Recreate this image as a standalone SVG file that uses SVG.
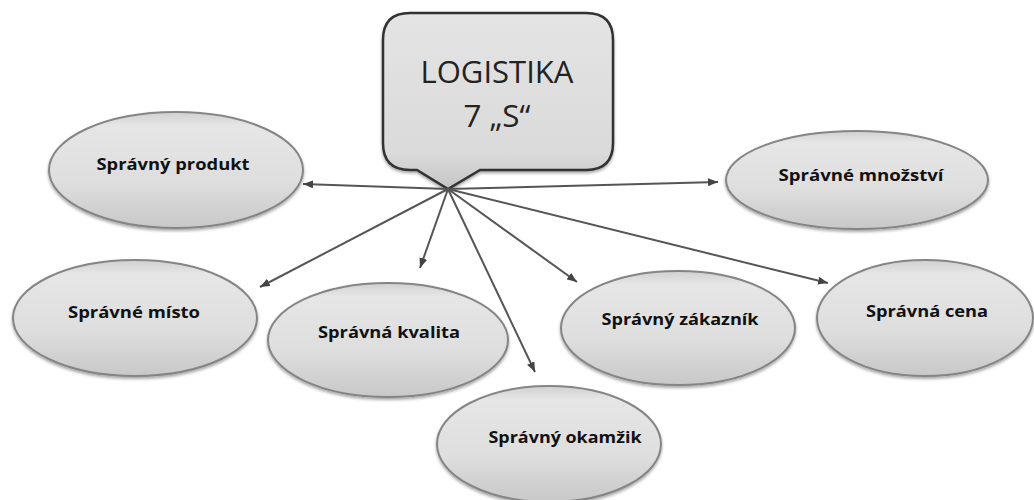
<svg xmlns="http://www.w3.org/2000/svg" width="1034" height="500" viewBox="0 0 1034 500">
<defs>
<linearGradient id="gEl" x1="0" y1="0" x2="0" y2="1">
<stop offset="0" stop-color="#d0d0d0"/>
<stop offset="0.12" stop-color="#e6e6e6"/>
<stop offset="0.6" stop-color="#dedede"/>
<stop offset="1" stop-color="#c8c8c8"/>
</linearGradient>
<linearGradient id="gBox" x1="0" y1="0" x2="0" y2="1">
<stop offset="0" stop-color="#e4e4e4"/>
<stop offset="0.8" stop-color="#dadada"/>
<stop offset="1" stop-color="#c4c4c4"/>
</linearGradient>
<filter id="sh" x="-10%" y="-10%" width="120%" height="125%">
<feDropShadow dx="0" dy="2" stdDeviation="1.5" flood-color="#000" flood-opacity="0.35"/>
</filter>
<marker id="ah" viewBox="0 0 10 8" refX="10" refY="4" markerWidth="10" markerHeight="8" markerUnits="userSpaceOnUse" orient="auto">
<path d="M0,0 L10,4 L0,8 Z" fill="#444"/>
</marker>
</defs>
<style>
.el{fill:url(#gEl);stroke:#858585;stroke-width:2;filter:url(#sh)}
.lbl{font-family:"Open Sans","Liberation Sans",sans-serif;font-weight:bold;font-size:16px;fill:#111;text-anchor:middle}
.big{font-family:"Open Sans","Liberation Sans",sans-serif;font-size:31px;fill:#222;text-anchor:middle}
.con{stroke:#555;stroke-width:2;fill:none;marker-end:url(#ah)}
</style>
<rect width="1034" height="500" fill="#ffffff"/>
<g id="logistika">
<path d="M410,13 H586 Q613,13 613,40 V143 Q613,170 586,170 H480 L448,189 L417,170 H410 Q383,170 383,143 V40 Q383,13 410,13 Z" fill="url(#gBox)" stroke="#333" stroke-width="2.5" filter="url(#sh)"/>
<text class="big" x="497" y="83" textLength="153" lengthAdjust="spacingAndGlyphs">LOGISTIKA</text>
<text class="big" x="497" y="127" textLength="67" lengthAdjust="spacingAndGlyphs">7 „S“</text>
</g>
<g id="connectors">
<line class="con" x1="448" y1="189" x2="303" y2="184"/>
<line class="con" x1="448" y1="189" x2="718" y2="182"/>
<line class="con" x1="448" y1="189" x2="260" y2="287"/>
<line class="con" x1="448" y1="189" x2="420" y2="268"/>
<line class="con" x1="448" y1="189" x2="535" y2="372"/>
<line class="con" x1="448" y1="189" x2="577" y2="282"/>
<line class="con" x1="448" y1="189" x2="828" y2="283"/>
</g>
<g id="produkt">
<ellipse class="el" cx="176" cy="170" rx="127" ry="58"/>
<text class="lbl" x="173" y="170" textLength="153" lengthAdjust="spacingAndGlyphs">Správný produkt</text>
</g>
<g id="mnozstvi">
<ellipse class="el" cx="857" cy="180" rx="131" ry="49"/>
<text class="lbl" x="861" y="181" textLength="165" lengthAdjust="spacingAndGlyphs">Správné množství</text>
</g>
<g id="misto">
<ellipse class="el" cx="135" cy="318" rx="122" ry="58"/>
<text class="lbl" x="134" y="318" textLength="132" lengthAdjust="spacingAndGlyphs">Správné místo</text>
</g>
<g id="kvalita">
<ellipse class="el" cx="388" cy="340" rx="120" ry="57"/>
<text class="lbl" x="389" y="338" textLength="142" lengthAdjust="spacingAndGlyphs">Správná kvalita</text>
</g>
<g id="okamzik">
<ellipse class="el" cx="549" cy="444" rx="112" ry="58"/>
<text class="lbl" x="565" y="443" textLength="153" lengthAdjust="spacingAndGlyphs">Správný okamžik</text>
</g>
<g id="zakaznik">
<ellipse class="el" cx="678" cy="328" rx="117" ry="57"/>
<text class="lbl" x="680" y="325" textLength="157" lengthAdjust="spacingAndGlyphs">Správný zákazník</text>
</g>
<g id="cena">
<ellipse class="el" cx="925" cy="318" rx="108" ry="58"/>
<text class="lbl" x="927" y="317" textLength="122" lengthAdjust="spacingAndGlyphs">Správná cena</text>
</g>
</svg>
